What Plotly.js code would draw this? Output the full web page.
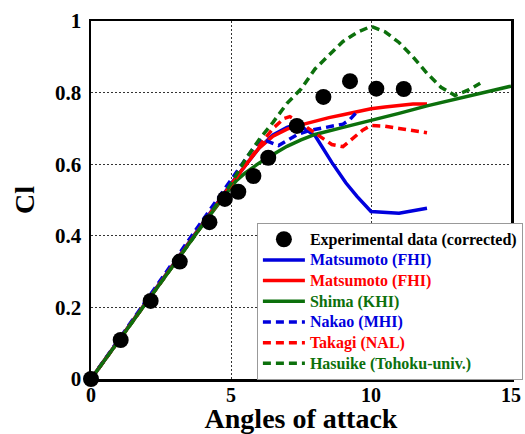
<!DOCTYPE html>
<html>
<head>
<meta charset="utf-8">
<script src="https://cdn.plot.ly/plotly-3.0.1.min.js"></script>
<style>html,body{margin:0;padding:0;background:#fff;}#chart{width:525px;height:434px;}</style>
</head>
<body>
<div id="chart"></div>
<script>
// Experimental data (corrected)
const expAlpha = [0, 1.06, 2.13, 3.17, 4.23, 4.78, 5.26, 5.8, 6.33, 7.35, 8.3, 9.25, 10.19, 11.17];
const expCl    = [0, 0.109, 0.218, 0.328, 0.438, 0.503, 0.523, 0.567, 0.618, 0.707, 0.788, 0.832, 0.811, 0.81];

// Matsumoto (FHI) - blue solid
const matsuBAlpha = [0, 1, 2, 3, 4, 5, 5.5, 6, 6.5, 7, 7.3, 7.6, 8.0, 8.6, 9.1, 9.5, 10.0, 11.0, 12.0];
const matsuBCl    = [0, 0.109, 0.218, 0.327, 0.436, 0.545, 0.595, 0.645, 0.682, 0.703, 0.71, 0.7, 0.68, 0.605, 0.548, 0.51, 0.468, 0.463, 0.477];

// Matsumoto (FHI) - red solid
const matsuRAlpha = [0, 1, 2, 3, 4, 5, 5.5, 6, 6.5, 7, 7.5, 8, 8.5, 9, 9.5, 10, 10.5, 11, 11.5, 12];
const matsuRCl    = [0, 0.109, 0.218, 0.327, 0.436, 0.543, 0.595, 0.645, 0.678, 0.698, 0.71, 0.721, 0.73, 0.738, 0.747, 0.755, 0.76, 0.765, 0.768, 0.768];

// Shima (KHI) - green solid
const shimaAlpha = [0, 1, 2, 3, 4, 5, 5.2, 5.5, 6, 6.5, 7, 7.5, 8, 9, 10, 11, 12, 13, 14, 15];
const shimaCl    = [0, 0.108, 0.216, 0.324, 0.432, 0.535, 0.555, 0.575, 0.603, 0.627, 0.65, 0.668, 0.683, 0.703, 0.722, 0.742, 0.763, 0.782, 0.8, 0.818];

// Nakao (MHI) - blue dashed
const nakaoAlpha = [0, 1, 2, 3, 4, 5, 5.5, 5.8, 6.1, 6.4, 6.7, 7.0, 7.4, 7.8, 8.2, 8.6, 9.0, 9.25, 9.45];
const nakaoCl    = [0, 0.111, 0.222, 0.333, 0.444, 0.555, 0.61, 0.645, 0.67, 0.66, 0.652, 0.666, 0.684, 0.694, 0.7, 0.705, 0.712, 0.725, 0.742];

// Takagi (NAL) - red dashed
const takagiAlpha = [0, 1, 2, 3, 4, 5, 5.5, 6, 6.5, 6.9, 7.1, 7.4, 7.8, 8.2, 8.6, 9.0, 9.4, 9.7, 10, 10.5, 11, 11.5, 12];
const takagiCl    = [0, 0.109, 0.218, 0.327, 0.436, 0.545, 0.598, 0.65, 0.7, 0.728, 0.733, 0.72, 0.698, 0.675, 0.655, 0.649, 0.675, 0.695, 0.708, 0.706, 0.7, 0.694, 0.688];

// Hasuike (Tohoku-univ.) - green dashed
const hasuikeAlpha = [0, 1, 2, 3, 4, 5, 5.5, 6, 6.5, 7, 7.5, 8, 8.5, 9, 9.5, 10, 10.5, 11, 11.5, 12, 12.5, 13, 13.5, 13.9];
const hasuikeCl    = [0, 0.108, 0.216, 0.324, 0.432, 0.545, 0.612, 0.668, 0.717, 0.77, 0.81, 0.866, 0.905, 0.943, 0.968, 0.985, 0.97, 0.94, 0.9, 0.854, 0.815, 0.792, 0.808, 0.826];

const xTicks = [0, 5, 10, 15];
const yTicks = [0, 0.2, 0.4, 0.6, 0.8, 1];

const BLUE = '#0000dd', RED = '#ff0000', GREEN = '#0c700c';
const FONT = 'Liberation Serif, Times New Roman, serif';
const DASH = '8px,5px';

function lab(txt, color) {
  return '<span style="color:' + color + ';font-size:16px">' + txt + '</span>';
}

const data = [
  {x: matsuBAlpha, y: matsuBCl, mode: 'lines', name: lab('Matsumoto (FHI)', BLUE), line: {color: BLUE, width: 3.5}, legendrank: 2},
  {x: matsuRAlpha, y: matsuRCl, mode: 'lines', name: lab('Matsumoto (FHI)', RED), line: {color: RED, width: 3.5}, legendrank: 3},
  {x: shimaAlpha, y: shimaCl, mode: 'lines', name: lab('Shima (KHI)', GREEN), line: {color: GREEN, width: 3.5}, legendrank: 4},
  {x: nakaoAlpha, y: nakaoCl, mode: 'lines', name: lab('Nakao (MHI)', BLUE), line: {color: BLUE, width: 3.5, dash: DASH}, legendrank: 5},
  {x: takagiAlpha, y: takagiCl, mode: 'lines', name: lab('Takagi (NAL)', RED), line: {color: RED, width: 3.5, dash: DASH}, legendrank: 6},
  {x: hasuikeAlpha, y: hasuikeCl, mode: 'lines', name: lab('Hasuike (Tohoku-univ.)', GREEN), line: {color: GREEN, width: 3.5, dash: DASH}, legendrank: 7},
  {x: expAlpha, y: expCl, mode: 'markers', name: lab('Experimental data (corrected)', '#000'), marker: {color: '#000', size: 16}, cliponaxis: false, legendrank: 1}
];

const layout = {
  width: 525, height: 434,
  margin: {l: 91, r: 14, t: 21, b: 55, autoexpand: false},
  paper_bgcolor: '#fff', plot_bgcolor: '#fff',
  font: {family: FONT, color: '#000', weight: 'bold'},
  showlegend: true,
  xaxis: {
    range: [0, 15], tickvals: xTicks, ticktext: xTicks.map(String),
    showline: true, mirror: true, linecolor: '#000', linewidth: 2.5,
    showgrid: true, gridcolor: '#333', gridwidth: 1, griddash: '2px,2px',
    zeroline: false, ticks: '', ticklabelstandoff: -4,
    tickfont: {size: 20, family: FONT, weight: 'bold'},
    title: {text: 'Angles of attack', font: {size: 28, family: FONT, weight: 'bold'}, standoff: 3}
  },
  yaxis: {
    range: [0, 1], tickvals: yTicks, ticktext: yTicks.map(String),
    showline: true, mirror: true, linecolor: '#000', linewidth: 2.5,
    showgrid: true, gridcolor: '#333', gridwidth: 1, griddash: '2px,2px',
    zeroline: false, ticks: '', ticklabelstandoff: 3,
    tickfont: {size: 21, family: FONT, weight: 'bold'},
    title: {text: 'Cl', font: {size: 28, family: FONT, weight: 'bold'}, standoff: 12}
  },
  legend: {
    x: 0.395, y: 0.436, xanchor: 'left', yanchor: 'top',
    bgcolor: '#fff', bordercolor: '#999', borderwidth: 1,
    font: {size: 13.6, family: FONT, weight: 'bold'},
    itemwidth: 42, tracegroupgap: 0
  }
};

Plotly.newPlot('chart', data, layout, {staticPlot: true, displayModeBar: false});
</script>
</body>
</html>
